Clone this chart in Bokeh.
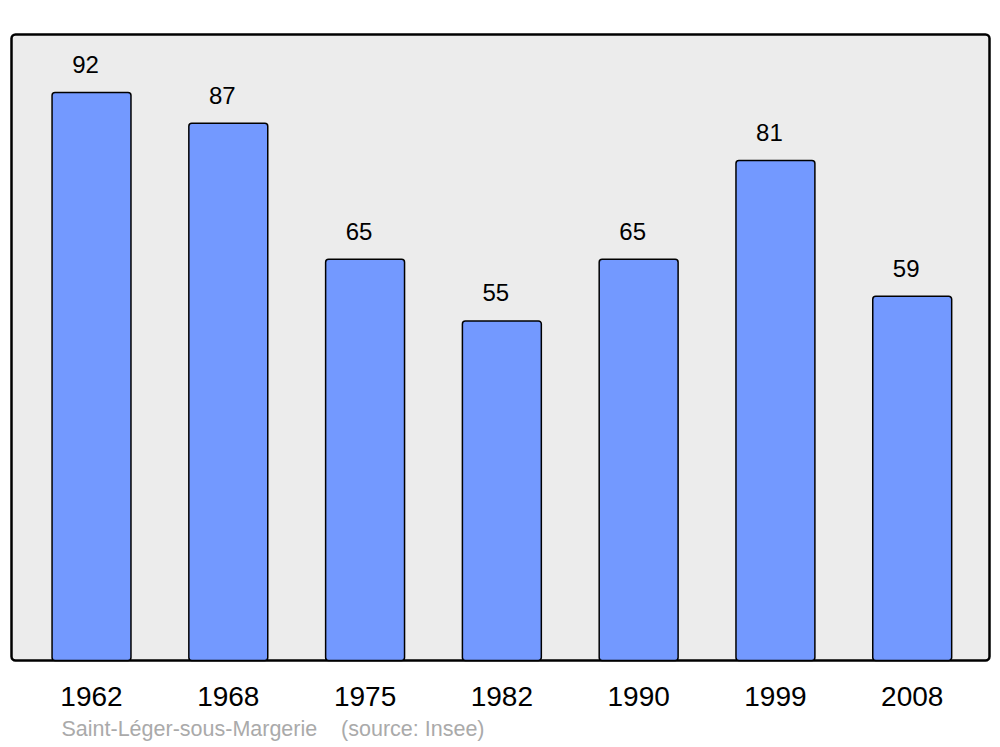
from bokeh.plotting import figure
from bokeh.models import ColumnDataSource, BoxAnnotation, Range1d, FixedTicker, Title
from bokeh.core.properties import value
from bokeh.embed import file_html
from bokeh.resources import INLINE

years = ["1962", "1968", "1975", "1982", "1990", "1999", "2008"]
population = [92, 87, 65, 55, 65, 81, 59]
footer_text = "Saint-Léger-sous-Margerie\u00a0\u00a0\u00a0\u00a0(source: Insee)"

xs = list(range(len(years)))
src = ColumnDataSource(dict(x=xs, top=population, label=[str(v) for v in population]))

# visible box in data coords
bx0, bx1 = -0.585, 6.565
by0, by1 = 0.0, 101.39
ppx = 978 / (bx1 - bx0)
ppy = 626 / (by1 - by0)
pad = 2

p = figure(width=1000, height=747, output_backend="svg", toolbar_location=None,
           x_range=Range1d(bx0 - pad / ppx, bx1 + pad / ppx),
           y_range=Range1d(by0 - pad / ppy, by1 + pad / ppy),
           min_border_left=9, min_border_right=9, min_border_top=32, min_border_bottom=85)
p.outline_line_color = None
p.background_fill_color = "white"
p.border_fill_color = "white"
p.grid.visible = False
p.yaxis.visible = False

box = BoxAnnotation(left=bx0, right=bx1, bottom=by0, top=by1,
                    fill_color="#ececec", fill_alpha=1, line_color="black", line_alpha=1,
                    line_width=2.5, border_radius=4, level="underlay")
p.add_layout(box)

p.vbar(x="x", top="top", bottom=0, width=0.577, source=src,
       fill_color="#7399ff", line_color="black", line_width=1.5, border_radius=3)

p.text(x="x", y="top", text="label", source=src, text_align="center",
       text_baseline="alphabetic", y_offset=-28, x_offset=-6,
       text_font=value("Liberation Sans"), text_font_size="24px", text_color="black")

ax = p.xaxis[0]
ax.ticker = FixedTicker(ticks=xs)
ax.major_label_overrides = {i: y for i, y in enumerate(years)}
ax.axis_line_color = None
ax.major_tick_line_color = None
ax.minor_tick_line_color = None
ax.major_label_text_font = "Liberation Sans"
ax.major_label_text_font_size = "28px"
ax.major_label_text_color = "black"
ax.major_label_standoff = 18

footer = Title(text=footer_text, align="left", offset=52, text_font="Liberation Sans",
               text_font_size="21.5px", text_font_style="normal", text_color="#aaaaaa",
               standoff=13)
p.add_layout(footer, "below")

open("out.html", "w").write(file_html(p, INLINE))
